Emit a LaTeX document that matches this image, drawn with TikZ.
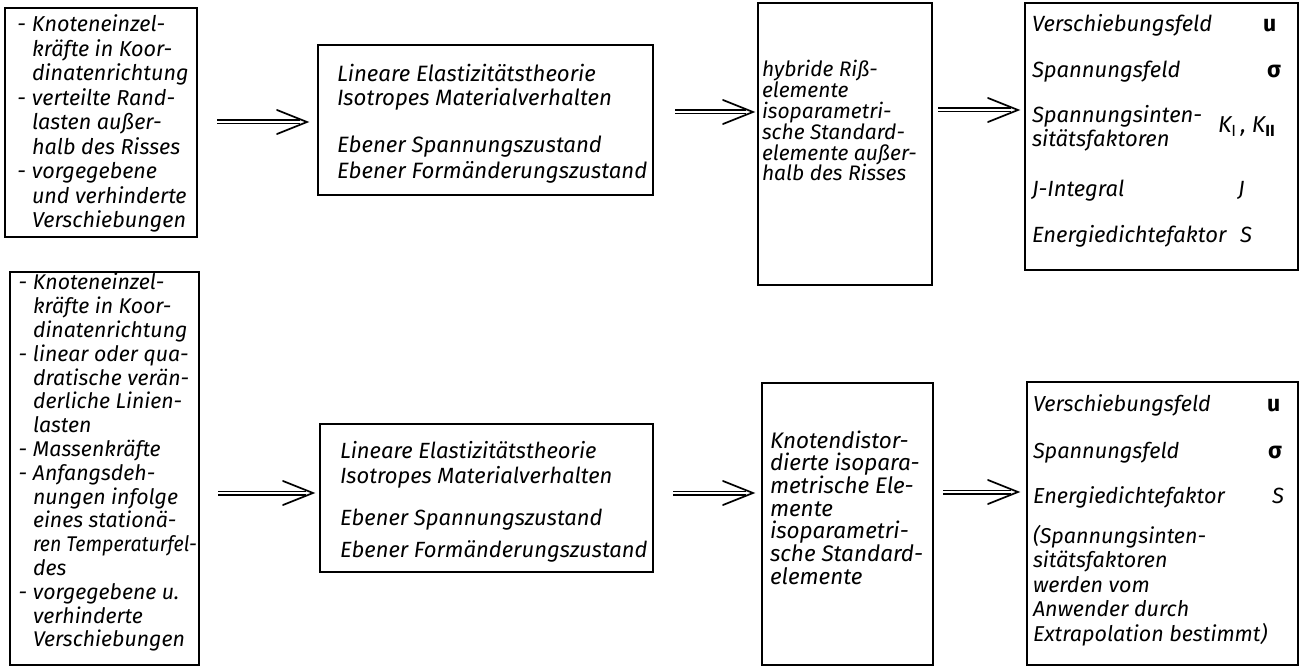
\documentclass[tikz,border=0pt]{standalone}
\usepackage{fontspec}
\setmainfont{Fira Sans}
\newcommand\ml[2]{\vtop{\baselineskip=#1\relax\lineskiplimit=-100pt\relax\halign{##\hfil\cr#2\crcr}}}
\newcommand\dsh{\llap{-\hspace{6pt}}}
\begin{document}
\begin{tikzpicture}[x=1pt,y=-1pt,
  box/.style={draw=black, line width=2.4pt, inner sep=0pt, outer sep=0pt},
  txt/.style={anchor=base west, inner sep=0pt, outer sep=0pt, font=\fontsize{#1}{24}\selectfont\itshape},
  txt/.default=22,
  shaft/.style={draw=black, double=white, double distance=2.2pt, line width=1.4pt},
  barb/.style={draw=black, line width=1.7pt, line cap=round, line join=miter}]
\useasboundingbox[fill=white] (0,0) rectangle (1302,668);
\newcommand\dblarrow[2]{%
  \draw[shaft] (#1) -- ([xshift=-7pt]#2);
  \draw[barb] ([shift={(-30,-12)}]#2) -- (#2) -- ([shift={(-30,12)}]#2);}

% boxes
\node[box, minimum width=192pt, minimum height=229pt] (b1) at (101,122.5) {};
\node[box, minimum width=335pt, minimum height=150pt] (b2) at (485.5,120) {};
\node[box, minimum width=174pt, minimum height=282pt] (b3) at (845,144) {};
\node[box, minimum width=273pt, minimum height=267pt] (b4) at (1161.5,136.5) {};
\node[box, minimum width=189pt, minimum height=393pt] (b5) at (104.5,468.5) {};
\node[box, minimum width=333pt, minimum height=148pt] (b6) at (486.5,498) {};
\node[box, minimum width=171pt, minimum height=282pt] (b7) at (847.5,524) {};
\node[box, minimum width=271pt, minimum height=283pt] (b8) at (1162.5,523.5) {};

% texts top row
\node[txt=21.6] (t1) at (32,32) {\ml{24.5pt}{\dsh Knoteneinzel-\cr kräfte in Koor-\cr dinatenrichtung\cr \dsh verteilte Rand-\cr lasten außer-\cr halb des Risses\cr \dsh vorgegebene\cr und verhinderte\cr Verschiebungen}};
\node[txt=22.2] (t2) at (337,82) {\ml{24pt}{Lineare Elastizitätstheorie\cr Isotropes Materialverhalten\cr\noalign{\vskip 23pt} Ebener Spannungszustand\cr\noalign{\vskip 2pt} Ebener Formänderungszustand}};
\node[txt=21] (t3) at (762,77) {\ml{20.8pt}{hybride Riß-\cr elemente\cr isoparametri-\cr sche Standard-\cr elemente außer-\cr halb des Risses}};
\node[txt] (r1) at (1032,32) {Verschiebungsfeld};
\node[txt] (r2) at (1032,78) {Spannungsfeld};
\node[txt] (r3) at (1032,123) {\ml{24pt}{Spannungsinten-\cr sitätsfaktoren}};
\node[txt] (r4) at (1032,197) {J-Integral};
\node[txt] (r5) at (1032,243) {Energiedichtefaktor};
\node[txt=23] (s1) at (1263,32) {\textbf{\upshape u}};
\node[txt=23] (s2) at (1267,78) {\textbf{\upshape σ}};
\node[txt=23] (s3) at (1218,133) {K\textsubscript{\upshape I}\,, K\textsubscript{\upshape\bfseries II}};
\node[txt] (s4) at (1238,197) {J};
\node[txt] (s5) at (1240,243) {S};

% texts bottom row
\node[txt=21.3] (t5) at (33,290) {\ml{23.8pt}{\dsh Knoteneinzel-\cr kräfte in Koor-\cr dinatenrichtung\cr \dsh linear oder qua-\cr dratische verän-\cr derliche Linien-\cr lasten\cr \dsh Massenkräfte\cr \dsh Anfangsdeh-\cr nungen infolge\cr eines stationä-\cr \scalebox{0.92}[1]{ren Temperaturfel-}\cr des\cr \dsh vorgegebene u.\cr verhinderte\cr Verschiebungen}};
\node[txt=22] (t6) at (340,458) {\ml{25pt}{Lineare Elastizitätstheorie\cr Isotropes Materialverhalten\cr\noalign{\vskip 17pt} Ebener Spannungszustand\cr\noalign{\vskip 8pt} Ebener Formänderungszustand}};
\node[txt=22.5] (t7) at (770,448) {\ml{22.7pt}{Knotendistor-\cr dierte isopara-\cr metrische Ele-\cr mente\cr isoparametri-\cr sche Standard-\cr elemente}};
\node[txt=21.7] (q1) at (1033,412) {Verschiebungsfeld};
\node[txt=21.7] (q2) at (1033,458) {Spannungsfeld};
\node[txt=21.7] (q3) at (1033,503) {Energiedichtefaktor};
\node[txt=21.5] (q4) at (1033,543) {\ml{24.5pt}{(Spannungsinten-\cr sitätsfaktoren\cr werden vom\cr Anwender durch\cr Extrapolation bestimmt)}};
\node[txt=23] (u1) at (1267,412) {\textbf{\upshape u}};
\node[txt=23] (u2) at (1268,458) {\textbf{\upshape σ}};
\node[txt] (u3) at (1272,503) {S};

% arrows
\coordinate (a1s) at (217,122); \coordinate (a1e) at (307,122);
\coordinate (a2s) at (675,112); \coordinate (a2e) at (753,112);
\coordinate (a3s) at (938,110); \coordinate (a3e) at (1018,110);
\coordinate (a4s) at (218,493); \coordinate (a4e) at (313,493);
\coordinate (a5s) at (673,493); \coordinate (a5e) at (753,493);
\coordinate (a6s) at (943,492); \coordinate (a6e) at (1018,492);
\dblarrow{a1s}{a1e}
\dblarrow{a2s}{a2e}
\dblarrow{a3s}{a3e}
\dblarrow{a4s}{a4e}
\dblarrow{a5s}{a5e}
\dblarrow{a6s}{a6e}
\end{tikzpicture}
\end{document}
